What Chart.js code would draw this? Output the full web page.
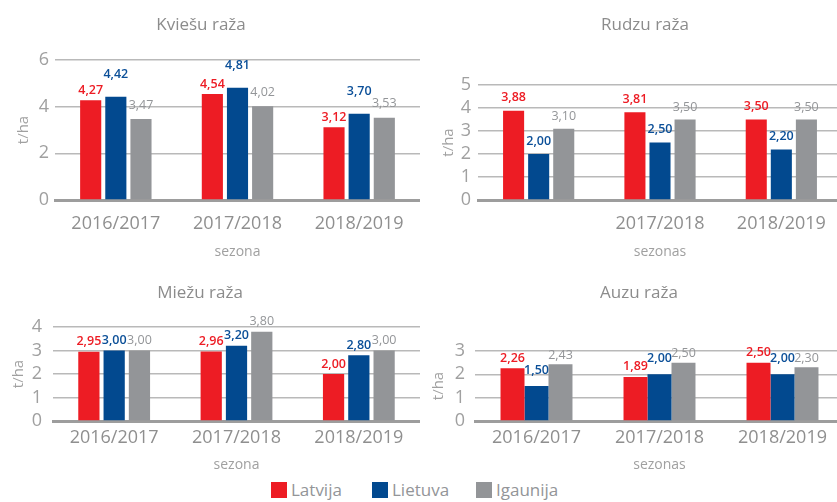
<!DOCTYPE html>
<html>
<head>
<meta charset="utf-8">
<script src="https://cdn.jsdelivr.net/npm/chart.js@4.4.0/dist/chart.umd.min.js"></script>
<style>
  html, body { margin: 0; padding: 0; background: #fff; overflow: hidden; }
  body { width: 837px; height: 502px; position: relative; font-family: 'Open Sans', sans-serif; }
  .box { position: absolute; }
  #legend { position: absolute; left: 271px; top: 478px; display: flex; align-items: center; }
  .item { display: flex; align-items: center; font-size: 17px; color: #939598; }
  .sw { width: 16px; height: 16px; margin-right: 4px; }
</style>
</head>
<body>
<div class="box" style="left:0;top:0;width:420px;height:262px"><canvas id="kviesu"></canvas></div>
<div class="box" style="left:420px;top:0;width:422px;height:262px"><canvas id="rudzu"></canvas></div>
<div class="box" style="left:0;top:268px;width:420px;height:207px"><canvas id="miezu"></canvas></div>
<div class="box" style="left:420px;top:268px;width:424px;height:207px"><canvas id="auzu"></canvas></div>
<div id="legend"></div>
<script>
// sezonas
var seasons = ['2016/2017', '2017/2018', '2018/2019'];
var rudzuTicks = ['', '2017/2018', '2018/2019'];   // pirmā sezona attēlā nav parakstīta
var countries = ['Latvija', 'Lietuva', 'Igaunija'];
var colors = ['#ED1C24', '#02498F', '#939598'];
var labelColors = ['#ED1C24', '#0B4F98', '#939598'];

// ražas, t/ha pa sezonām
var kviesuLV = [4.27, 4.54, 3.12];
var kviesuLT = [4.42, 4.81, 3.70];
var kviesuEE = [3.47, 4.02, 3.53];

var rudzuLV = [3.88, 3.81, 3.50];
var rudzuLT = [2.00, 2.50, 2.20];
var rudzuEE = [3.10, 3.50, 3.50];

var miezuLV = [2.95, 2.96, 2.00];
var miezuLT = [3.00, 3.20, 2.80];
var miezuEE = [3.00, 3.80, 3.00];

var auzuLV = [2.26, 1.89, 2.50];
var auzuLT = [1.50, 2.00, 2.00];
var auzuEE = [2.43, 2.50, 2.30];

var font = "'Open Sans', sans-serif";

// vērtību uzraksti virs stabiņiem
var valueLabels = {
    id: 'valueLabels',
    afterDatasetsDraw(chart, args, opts) {
        var ctx = chart.ctx;
        chart.data.datasets.forEach((ds, i) => {
            chart.getDatasetMeta(i).data.forEach((bar, j) => {
                ctx.save();
                ctx.font = (i < 2 ? '600 ' : '400 ') + '12.5px ' + font;
                ctx.fillStyle = labelColors[i];
                ctx.textAlign = 'center';
                ctx.textBaseline = 'middle';
                ctx.fillText(ds.data[j].toFixed(2).replace('.', ','), bar.x, bar.y - opts.lift[i]);
                ctx.restore();
            });
        });
    }
};

// virsraksts nav centrēts pa visu platumu, tāpēc zīmējam paši
var panelTitle = {
    id: 'panelTitle',
    afterDraw(chart, args, opts) {
        var ctx = chart.ctx;
        ctx.save();
        ctx.font = '17px ' + font;
        ctx.fillStyle = '#8c8c8c';
        ctx.textAlign = 'center';
        ctx.textBaseline = 'middle';
        ctx.fillText(opts.text, opts.x, opts.y);
        ctx.restore();
    }
};

function makeChart(id, title, ticks, values, c) {
    return new Chart(id, {
        type: 'bar',
        data: {
            labels: ticks,
            datasets: countries.map((name, i) => ({
                label: name,
                data: values[i],
                backgroundColor: colors[i],
                categoryPercentage: c.catPct,
                barPercentage: c.barPct
            }))
        },
        options: {
            responsive: true,
            maintainAspectRatio: false,
            animation: false,
            layout: { padding: { top: c.plotTop, left: 0, right: 0, bottom: 0 } },
            plugins: {
                legend: { display: false },
                tooltip: { enabled: false },
                title: { display: false },
                panelTitle: { text: title, x: c.titleX, y: 25 },
                valueLabels: { lift: c.lift }
            },
            scales: {
                x: {
                    afterFit: s => { s.height = c.xHeight; },
                    grid: { display: false, drawTicks: false },
                    border: { display: true, color: '#9d9d9d', width: 3 },
                    ticks: { color: '#8f8f8f', font: { family: font, size: 18 }, padding: c.tickPad },
                    title: {
                        display: true, text: c.xTitle, color: '#a0a0a0',
                        font: { family: font, size: 14 },
                        padding: { top: 0, bottom: 2 }
                    }
                },
                y: {
                    min: 0, max: c.yMax,
                    afterFit: s => { s.width = c.yWidth; },
                    grid: { color: '#b9b9b9', lineWidth: 1.5, drawTicks: false },
                    border: { display: false },
                    ticks: { stepSize: c.step, autoSkip: false, color: '#a0a0a0', font: { family: font, size: 18 }, padding: c.yTickPad },
                    title: {
                        display: true, text: 't/ha', color: '#a0a0a0',
                        font: { family: font, size: 15 },
                        padding: { top: c.yTitlePad, bottom: 0 }
                    }
                }
            }
        },
        plugins: [valueLabels, panelTitle]
    });
}

makeChart('kviesu', 'Kviešu raža', seasons, [kviesuLV, kviesuLT, kviesuEE], {
    yMax: 6, step: 2, yWidth: 55, yTickPad: 6, yTitlePad: 15,
    plotTop: 60, titleX: 201, tickPad: 13, xHeight: 62, xTitle: 'sezona',
    catPct: 0.62, barPct: 0.84, lift: [10, 22, 14]
});
makeChart('rudzu', 'Rudzu raža', rudzuTicks, [rudzuLV, rudzuLT, rudzuEE], {
    yMax: 5, step: 1, yWidth: 58, yTickPad: 7, yTitlePad: 20,
    plotTop: 85, titleX: 225, tickPad: 13, xHeight: 62, xTitle: 'sezonas',
    catPct: 0.62, barPct: 0.84, lift: [13, 13, 12]
});
makeChart('miezu', 'Miežu raža', seasons, [miezuLV, miezuLT, miezuEE], {
    yMax: 4, step: 1, yWidth: 53, yTickPad: 11, yTitlePad: 10,
    plotTop: 59, titleX: 200, tickPad: 6, xHeight: 54, xTitle: 'sezona',
    catPct: 0.62, barPct: 0.84, lift: [10, 10, 10]
});
makeChart('auzu', 'Auzu raža', seasons, [auzuLV, auzuLT, auzuEE], {
    yMax: 3, step: 1, yWidth: 55, yTickPad: 10, yTitlePad: 10,
    plotTop: 83, titleX: 219, tickPad: 6, xHeight: 54, xTitle: 'sezonas',
    catPct: 0.585, barPct: 1.0, lift: [10, 16, 9]
});

// kopīgā leģenda
var itemWidths = [101, 104, 0];
var legend = document.getElementById('legend');
countries.forEach((name, i) => {
    var item = document.createElement('div');
    item.className = 'item';
    if (itemWidths[i]) item.style.width = itemWidths[i] + 'px';
    item.innerHTML = '<span class="sw" style="background:' + colors[i] + '"></span>' + name;
    legend.appendChild(item);
});
</script>
</body>
</html>
